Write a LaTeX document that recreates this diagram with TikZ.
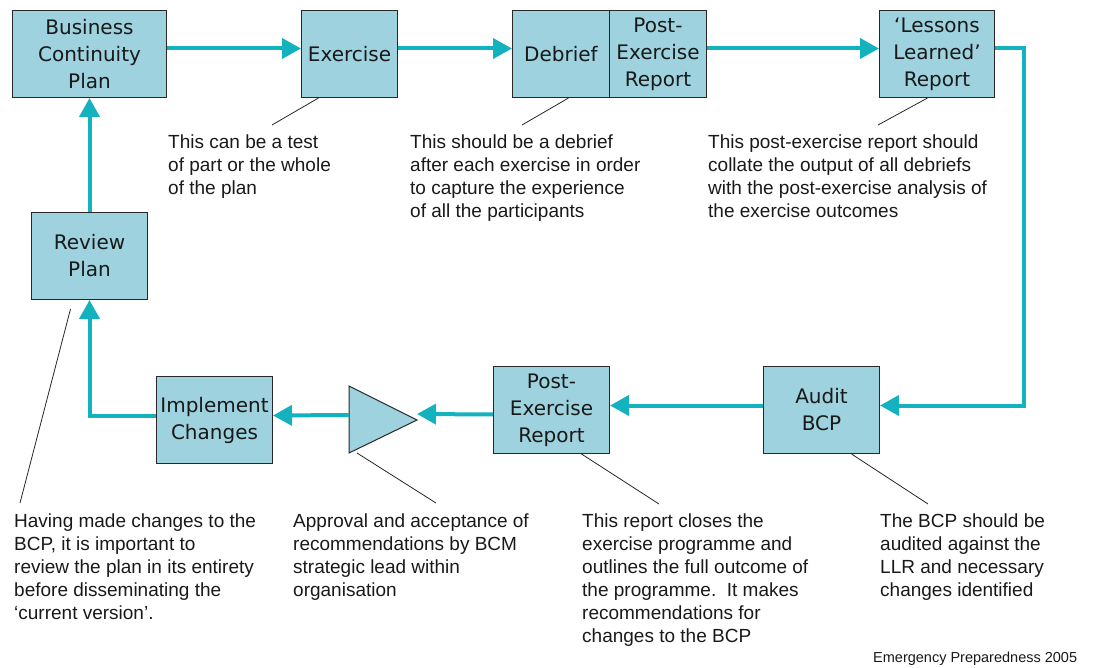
\documentclass[tikz,border=0pt]{standalone}
\usepackage{fontspec}
\usetikzlibrary{arrows.meta}
\newfontfamily\boxfont{DejaVu Sans}
\newfontfamily\notefont{Liberation Sans}
\definecolor{boxfill}{RGB}{157,210,222}
\definecolor{flow}{RGB}{20,177,191}
\definecolor{boxline}{RGB}{40,40,40}
\tikzset{
  stage/.style={draw=boxline, fill=boxfill, line width=1pt, inner sep=0pt,
    align=center, anchor=north west, text=black!90,
    font=\fontsize{20}{27}\selectfont\boxfont},
  note/.style={inner sep=0pt, align=left, anchor=north west, text=black!90,
    font=\fontsize{19}{23}\selectfont\notefont},
  flowline/.style={draw=flow, line width=4pt, line join=miter,
    -{Triangle[length=19pt,width=20pt]}},
  leader/.style={draw=black!85, line width=0.8pt}
}
\begin{document}
\begin{tikzpicture}[x=1pt, y=-1pt]
\useasboundingbox (0,0) rectangle (1103,668);

% --- process stages ---
\node[stage, minimum width=154pt, minimum height=87pt] (bcp) at (12,10) {Business\\Continuity\\Plan};
\node[stage, minimum width=96pt, minimum height=87pt] (ex) at (301,10) {Exercise};
\node[stage, minimum width=97pt, minimum height=87pt] (deb) at (512,10) {Debrief};
\node[stage, minimum width=97pt, minimum height=87pt] (per1) at (609,10) {Post-\\Exercise\\Report};
\node[stage, minimum width=115pt, minimum height=87pt] (ll) at (879,10) {‘Lessons\\Learned’\\Report};
\node[stage, minimum width=116pt, minimum height=87pt] (rev) at (31,212) {Review\\Plan};
\node[stage, minimum width=116pt, minimum height=87pt] (imp) at (156,376) {Implement\\Changes};
\node[stage, minimum width=116pt, minimum height=87pt] (per2) at (493,366) {Post-\\Exercise\\Report};
\node[stage, minimum width=116pt, minimum height=87pt] (aud) at (763,366) {Audit\\BCP};

% approval gate (triangle)
\draw[draw=boxline, fill=boxfill, line width=1pt] (349,386) -- (349,453) -- (417,420) -- cycle;
\coordinate (tri-in) at (417,414);
\coordinate (tri-out) at (349,415);
\coordinate (tri-foot) at (357,453);

% --- flow connectors ---
\draw[flowline] ([yshift=5.5pt]bcp.east) -- ([yshift=5.5pt]ex.west);
\draw[flowline] ([yshift=5.5pt]ex.east) -- ([yshift=5.5pt]deb.west);
\draw[flowline] ([yshift=5.5pt]per1.east) -- ([yshift=5.5pt]ll.west);
\draw[flowline] ([yshift=5.5pt]ll.east) -- ++(29,0) |- ([yshift=4.5pt]aud.east);
\draw[flowline] ([yshift=4.5pt]aud.west) -- ([yshift=4.5pt]per2.east);
\draw[flowline] ([yshift=-4.5pt]per2.west) -- (tri-in);
\draw[flowline] (tri-out) -- ([yshift=4.5pt]imp.east);
\draw[flowline] ([yshift=4.5pt]imp.west) -| (rev.south);
\draw[flowline] (rev.north) -- (bcp.south);

% --- notes ---
\node[note] (n-ex) at (168,135) {This can be a test\\of part or the whole\\of the plan};
\node[note] (n-deb) at (410,135) {This should be a debrief\\after each exercise in order\\to capture the experience\\of all the participants};
\node[note] (n-ll) at (708,135) {This post-exercise report should\\collate the output of all debriefs\\with the post-exercise analysis of\\the exercise outcomes};
\node[note] (n-rev) at (14,514) {Having made changes to the\\BCP, it is important to\\review the plan in its entirety\\before disseminating the\\‘current version’.};
\node[note] (n-tri) at (293,514) {Approval and acceptance of\\recommendations by BCM\\strategic lead within\\organisation};
\node[note] (n-per) at (582,514) {This report closes the\\exercise programme and\\outlines the full outcome of\\the programme.\ \ It makes\\recommendations for\\changes to the BCP};
\node[note] (n-aud) at (880,514) {The BCP should be\\audited against the\\LLR and necessary\\changes identified};

% --- leader lines ---
\coordinate (e-ex) at (272,125);
\coordinate (e-deb) at (522,125);
\coordinate (e-ll) at (878,125);
\coordinate (e-rev) at (20,503);
\coordinate (e-tri) at (436,503);
\coordinate (e-per) at (659,504);
\coordinate (e-aud) at (928,504);
\draw[leader] ([xshift=-31pt]ex.south) -- (e-ex);
\draw[leader] ([xshift=7.5pt]deb.south) -- (e-deb);
\draw[leader] ([xshift=-9.5pt]ll.south) -- (e-ll);
\draw[leader] ([xshift=-19pt,yshift=-9pt]rev.south) -- (e-rev);
\draw[leader] (tri-foot) -- (e-tri);
\draw[leader] ([xshift=30pt]per2.south) -- (e-per);
\draw[leader] ([xshift=30pt]aud.south) -- (e-aud);

% credit line
\node[inner sep=0pt, anchor=base west, text=black!90,
  font=\fontsize{14.5}{18}\selectfont\notefont] (credit) at (873,662) {Emergency Preparedness 2005};
\end{tikzpicture}
\end{document}
